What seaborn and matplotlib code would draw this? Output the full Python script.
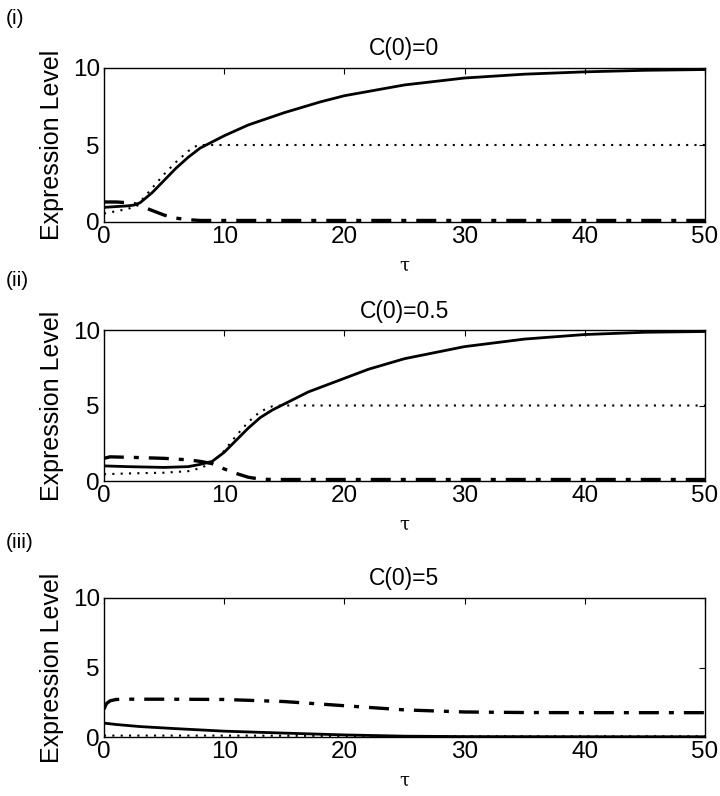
import numpy as np
import pandas as pd
import matplotlib
matplotlib.use("Agg")
import matplotlib.pyplot as plt
import seaborn as sb

sb.set_style("white")
plt.rcParams['font.family'] = ['Liberation Sans', 'DejaVu Sans']
plt.rcParams['text.color'] = 'black'
plt.rcParams['axes.labelcolor'] = 'black'

# painel (i) C(0)=0
t1_sol = [0, 1, 2, 2.5, 3, 4, 5, 6, 7, 8, 8.5, 10, 12, 15, 18, 20, 25, 30, 35, 40, 45, 50]
y1_sol = [0.95, 1.0, 1.05, 1.1, 1.25, 1.9, 2.7, 3.5, 4.2, 4.8, 5.0, 5.6, 6.3, 7.1, 7.8, 8.2, 8.9, 9.35, 9.6, 9.75, 9.85, 9.9]
t1_dot = [0, 1, 2, 2.5, 3, 4, 5, 6, 7, 7.8, 8.5, 50]
y1_dot = [0.55, 0.7, 0.85, 1.0, 1.3, 2.2, 3.1, 3.9, 4.6, 5.0, 5.0, 5.0]
t1_dd = [0, 1, 2, 2.5, 3, 4, 5, 6, 7, 8, 10, 50]
y1_dd = [1.3, 1.3, 1.25, 1.2, 1.05, 0.75, 0.45, 0.25, 0.15, 0.1, 0.1, 0.1]

# painel (ii) C(0)=0.5
t2_sol = [0, 2, 5, 7, 8, 9, 10, 11, 12, 13, 14, 15, 17, 20, 22, 25, 30, 35, 40, 45, 50]
y2_sol = [1.0, 0.95, 0.9, 0.95, 1.1, 1.3, 1.9, 2.7, 3.5, 4.2, 4.7, 5.1, 5.9, 6.8, 7.4, 8.1, 8.9, 9.4, 9.7, 9.85, 9.9]
t2_dot = [0, 2, 5, 7, 8, 9, 10, 11, 12, 13, 14, 14.5, 50]
y2_dot = [0.45, 0.5, 0.55, 0.65, 0.85, 1.2, 2.0, 3.0, 3.9, 4.6, 4.95, 5.0, 5.0]
t2_dd = [0, 0.5, 3, 5, 7, 8, 9, 10, 11, 12, 13, 14, 50]
y2_dd = [1.5, 1.6, 1.55, 1.5, 1.4, 1.3, 1.15, 0.8, 0.5, 0.25, 0.12, 0.1, 0.1]

# painel (iii) C(0)=5
t3_sol = [0, 1, 3, 6, 10, 15, 20, 25, 30, 40, 50]
y3_sol = [1.0, 0.9, 0.75, 0.6, 0.42, 0.28, 0.15, 0.06, 0.03, 0.02, 0.02]
t3_dot = [0, 10, 20, 30, 40, 50]
y3_dot = [0.1, 0.1, 0.08, 0.05, 0.05, 0.05]
t3_dd = [0, 0.2, 0.5, 1, 2, 5, 10, 15, 20, 25, 30, 35, 40, 50]
y3_dd = [2.0, 2.4, 2.6, 2.7, 2.72, 2.72, 2.7, 2.55, 2.25, 1.95, 1.8, 1.76, 1.75, 1.75]

paineis = [
    ("(i)", "C(0)=0", (t1_sol, y1_sol), (t1_dot, y1_dot), (t1_dd, y1_dd)),
    ("(ii)", "C(0)=0.5", (t2_sol, y2_sol), (t2_dot, y2_dot), (t2_dd, y2_dd)),
    ("(iii)", "C(0)=5", (t3_sol, y3_sol), (t3_dot, y3_dot), (t3_dd, y3_dd)),
]

fig = plt.figure(figsize=(7.2, 7.96), dpi=100)
W, H = 720, 796
# posicoes das caixas em pixels (esquerda, topo, direita, base)
caixas = [(104, 68, 705, 222), (104, 330, 705, 481), (104, 598, 705, 737)]
# posicao vertical dos rotulos (i), (ii), (iii)
y_rotulos = [18, 280, 543]

for (rotulo, titulo, sol, dot, dd), (x0, y0, x1, y1), yr in zip(paineis, caixas, y_rotulos):
    ax = fig.add_axes([x0 / W, 1 - y1 / H, (x1 - x0) / W, (y1 - y0) / H])
    df_sol = pd.DataFrame({"t": sol[0], "v": sol[1]})
    df_dot = pd.DataFrame({"t": dot[0], "v": dot[1]})
    df_dd = pd.DataFrame({"t": dd[0], "v": dd[1]})
    sb.lineplot(data=df_sol, x="t", y="v", color="black", linewidth=2.0, ax=ax)
    sb.lineplot(data=df_dot, x="t", y="v", color="black", linewidth=1.5,
                linestyle=(0, (1, 3)), ax=ax)
    sb.lineplot(data=df_dd, x="t", y="v", color="black", linewidth=2.4,
                linestyle=(0, (6, 3, 1.5, 3)), ax=ax)

    ax.set_xlim(0, 50)
    ax.set_ylim(0, 10)
    ax.set_xticks([0, 10, 20, 30, 40, 50])
    ax.set_yticks([0, 5, 10])
    ax.tick_params(direction="in", top=True, right=True, length=4, width=0.8,
                   labelsize=17.5, pad=3, colors="black")
    for s in ax.spines.values():
        s.set_color("black")
        s.set_linewidth(1.0)
    ax.set_xlabel("τ", family="DejaVu Serif", fontsize=13, labelpad=6, color="black")
    ax.set_ylabel("Expression Level", fontsize=18, labelpad=6, color="black")
    ax.set_title(titulo, fontsize=16.5, pad=9, color="black")
    fig.text(6 / W, 1 - yr / H, rotulo, fontsize=15, va="center", ha="left", color="black")

fig.savefig("out.png", dpi=100)
